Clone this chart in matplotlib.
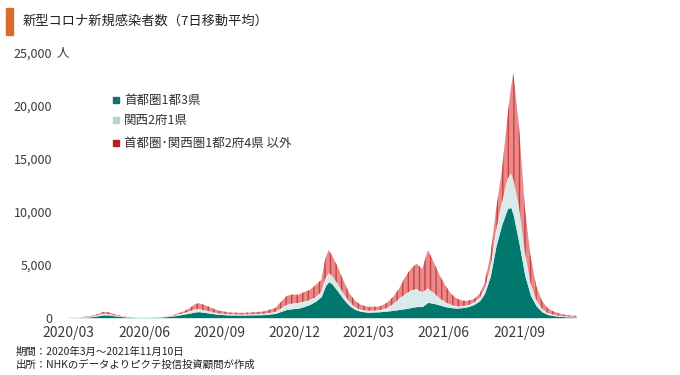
import matplotlib.pyplot as plt
import matplotlib.dates as mdates
import matplotlib.patches as patches
from matplotlib.ticker import FuncFormatter
import numpy as np

plt.rcParams['font.family'] = ['Noto Sans CJK JP', 'DejaVu Sans']

# 7日移動平均（人）、グラフから読み取った値
dates = ['2020-03-01', '2020-03-15', '2020-03-29', '2020-04-05', '2020-04-12',
         '2020-04-19', '2020-04-26', '2020-05-03', '2020-05-10', '2020-05-24',
         '2020-06-07', '2020-06-21', '2020-07-05', '2020-07-19', '2020-07-26',
         '2020-08-02', '2020-08-07', '2020-08-16', '2020-08-23', '2020-08-30',
         '2020-09-13', '2020-09-27', '2020-10-11', '2020-10-25', '2020-11-08',
         '2020-11-15', '2020-11-22', '2020-11-29', '2020-12-06', '2020-12-13',
         '2020-12-20', '2020-12-27', '2021-01-03', '2021-01-08', '2021-01-12',
         '2021-01-16', '2021-01-23', '2021-01-30', '2021-02-06', '2021-02-13',
         '2021-02-20', '2021-03-01', '2021-03-15', '2021-03-24', '2021-04-01',
         '2021-04-08', '2021-04-15', '2021-04-22', '2021-04-29', '2021-05-06',
         '2021-05-13', '2021-05-20', '2021-05-27', '2021-06-03', '2021-06-10',
         '2021-06-17', '2021-06-24', '2021-07-01', '2021-07-08', '2021-07-15',
         '2021-07-21', '2021-07-28', '2021-08-04', '2021-08-11', '2021-08-18',
         '2021-08-22', '2021-08-25', '2021-09-01', '2021-09-08', '2021-09-15',
         '2021-09-22', '2021-09-29', '2021-10-06', '2021-10-13', '2021-10-20',
         '2021-10-27', '2021-11-03', '2021-11-10']

tokyo = [5, 12, 90, 170, 270,
         260, 180, 120, 55, 20,
         25, 45, 150, 330, 420,
         540, 570, 470, 400, 320,
         260, 250, 270, 290, 400,
         600, 780, 850, 900, 1050,
         1250, 1550, 2000, 3000, 3400,
         3200, 2500, 1750, 1150, 780,
         600, 520, 560, 620, 700,
         780, 850, 950, 1050, 1050,
         1450, 1350, 1200, 1050, 950,
         900, 950, 1050, 1250, 1600,
         2300, 3900, 6800, 8800, 10300,
         10400, 9700, 7000, 4000, 2100,
         1100, 550, 300, 200, 130,
         90, 70, 60]

kansai = [3, 8, 35, 60, 90,
          80, 45, 20, 8, 2,
          1, 2, 15, 90, 170,
          250, 230, 190, 140, 100,
          70, 55, 60, 80, 140,
          270, 430, 500, 480, 470,
          420, 380, 420, 700, 800,
          780, 700, 560, 380, 230,
          160, 120, 150, 280, 600,
          1000, 1350, 1600, 1650, 1350,
          1300, 1000, 650, 420, 270,
          170, 130, 130, 160, 250,
          400, 800, 1400, 2000, 2800,
          3200, 3400, 3500, 2300, 1200,
          600, 300, 150, 90, 60,
          40, 30, 25]

other = [12, 20, 55, 100, 180,
         170, 95, 55, 20, 6,
         5, 8, 35, 170, 280,
         480, 570, 470, 360, 260,
         160, 150, 170, 220, 380,
         630, 850, 850, 780, 900,
         950, 1150, 1150, 1900, 2200,
         1900, 1600, 1200, 800, 600,
         460, 380, 340, 500, 700,
         1000, 1600, 2050, 2400, 2200,
         3650, 2900, 2200, 1600, 1050,
         750, 520, 430, 350, 400,
         600, 1100, 2000, 3000, 5900,
         8000, 10000, 7500, 4200, 2500,
         1300, 750, 450, 300, 200,
         140, 110, 90]

labels = ['首都圏1都3県', '関西2府1県', '首都圏･関西圏1都2府4県 以外']
colors = ['#00786E', '#D9EAEA', '#E98A8A']
legend_colors = ['#17706A', '#B7D4D4', '#B41E24']

x = mdates.date2num(np.array(dates, dtype='datetime64[D]'))
t = np.array(tokyo)
k = np.array(kansai)
o = np.array(other)

fig = plt.figure(figsize=(6.8, 3.75), dpi=100)
ax = fig.add_axes([62 / 680, 57.3 / 375, 528 / 680, 265 / 375])

# 積み上げ面グラフ
ax.fill_between(x, 0, t, color=colors[0], linewidth=0)
ax.fill_between(x, t, t + k, color=colors[1], linewidth=0)
ax.fill_between(x, t + k, t + k + o, facecolor=colors[2], edgecolor='#CC3F42',
                hatch='|||', linewidth=0)

start = mdates.date2num(np.datetime64('2020-03-01'))
ax.set_xlim(start - 8, start + 635.5)
ax.set_ylim(0, 25000)

ticks = ['2020-03-01', '2020-06-01', '2020-09-01', '2020-12-01',
         '2021-03-01', '2021-06-01', '2021-09-01']
ax.set_xticks(mdates.date2num(np.array(ticks, dtype='datetime64[D]')))
ax.xaxis.set_major_formatter(mdates.DateFormatter('%Y/%m'))
ax.set_yticks(range(0, 25001, 5000))
ax.yaxis.set_major_formatter(FuncFormatter(lambda v, p: f'{int(v):,}'))

ax.tick_params(axis='both', length=0, colors='#3A3A3A')
ax.tick_params(axis='x', labelsize=10, pad=6)
ax.tick_params(axis='y', labelsize=9, pad=7)
for s in ax.spines.values():
    s.set_visible(False)

fig.text(57 / 680, 1 - 53.5 / 375, '人', fontsize=9, color='#3A3A3A', va='center')

# タイトル
fig.patches.append(patches.Rectangle((6 / 680, 1 - 35 / 375), 7 / 680, 27 / 375,
                                     transform=fig.transFigure, color='#DA6B2C'))
fig.text(23 / 680, 1 - 21 / 375, '新型コロナ新規感染者数（7日移動平均）',
         fontsize=9.5, color='#222222', va='center')

# 凡例
rows = [100, 120, 143]
for lab, c, yy in zip(labels, legend_colors, rows):
    fig.patches.append(patches.Rectangle((113 / 680, 1 - (yy + 3) / 375), 6 / 680, 6 / 375,
                                         transform=fig.transFigure, color=c))
    fig.text(124 / 680, 1 - yy / 375, lab, fontsize=9, color='#333333', va='center')

# 注記
fig.text(16 / 680, 1 - 352 / 375, '期間：2020年3月～2021年11月10日',
         fontsize=7.5, color='#222222', va='center')
fig.text(16 / 680, 1 - 365 / 375, '出所：NHKのデータよりピクテ投信投資顧問が作成',
         fontsize=7.5, color='#222222', va='center')

fig.savefig('out.png', dpi=100)
